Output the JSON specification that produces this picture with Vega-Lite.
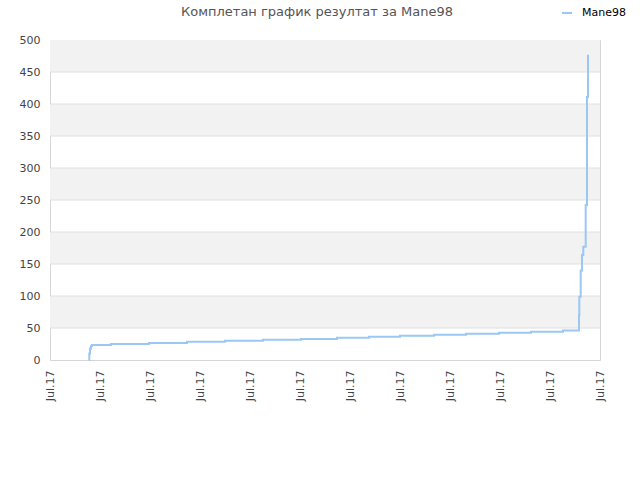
{
  "$schema": "https://vega.github.io/schema/vega-lite/v6.json",
  "width": 550,
  "height": 320,
  "autosize": "none",
  "padding": {"left": 50, "top": 40, "right": 40, "bottom": 120},
  "title": {
    "text": "Комплетан график резултат за Mane98",
    "font": "DejaVu Sans",
    "fontSize": 13,
    "fontWeight": "normal",
    "color": "#555555",
    "letterSpacing": 0.3,
    "anchor": "middle",
    "frame": "group",
    "dx": -8,
    "offset": -12
  },
  "layer": [
    {
      "data": {"values": [
        {"lo": 50, "hi": 100},
        {"lo": 150, "hi": 200},
        {"lo": 250, "hi": 300},
        {"lo": 350, "hi": 400},
        {"lo": 450, "hi": 500}
      ]},
      "mark": {"type": "rect", "color": "#f2f2f2"},
      "encoding": {
        "y": {
          "field": "lo",
          "type": "quantitative",
          "scale": {"domain": [0, 500], "nice": false},
          "axis": {
            "title": null,
            "values": [0, 50, 100, 150, 200, 250, 300, 350, 400, 450, 500],
            "labelOverlap": false,
            "grid": false,
            "ticks": false,
            "domain": false,
            "labelPadding": 10
          }
        },
        "y2": {"field": "hi"}
      }
    },
    {
      "data": {"values": [
        {"level": 50}, {"level": 100}, {"level": 150}, {"level": 200}, {"level": 250},
        {"level": 300}, {"level": 350}, {"level": 400}, {"level": 450}
      ]},
      "mark": {"type": "rule", "color": "#e0e0e0", "strokeWidth": 1},
      "encoding": {
        "y": {
          "field": "level",
          "type": "quantitative",
          "axis": {
            "title": null,
            "values": [0, 50, 100, 150, 200, 250, 300, 350, 400, 450, 500],
            "labelOverlap": false,
            "grid": false,
            "ticks": false,
            "domain": false,
            "labelPadding": 10
          }
        }
      }
    },
    {
      "data": {"values": [
        {"player": "Mane98", "time": "2017-07-01T18:43:00", "score": 0},
        {"player": "Mane98", "time": "2017-07-01T18:52:00", "score": 10},
        {"player": "Mane98", "time": "2017-07-01T19:12:00", "score": 18},
        {"player": "Mane98", "time": "2017-07-01T19:41:00", "score": 22},
        {"player": "Mane98", "time": "2017-07-01T20:10:00", "score": 23.5},
        {"player": "Mane98", "time": "2017-07-02T05:17:00", "score": 25},
        {"player": "Mane98", "time": "2017-07-02T23:31:00", "score": 26.5},
        {"player": "Mane98", "time": "2017-07-03T17:46:00", "score": 28.5},
        {"player": "Mane98", "time": "2017-07-04T12:00:00", "score": 30},
        {"player": "Mane98", "time": "2017-07-05T06:14:00", "score": 31.5},
        {"player": "Mane98", "time": "2017-07-06T00:29:00", "score": 33},
        {"player": "Mane98", "time": "2017-07-06T17:46:00", "score": 34.7},
        {"player": "Mane98", "time": "2017-07-07T09:07:00", "score": 36.3},
        {"player": "Mane98", "time": "2017-07-08T00:00:00", "score": 37.8},
        {"player": "Mane98", "time": "2017-07-08T16:19:00", "score": 39.5},
        {"player": "Mane98", "time": "2017-07-09T07:41:00", "score": 41},
        {"player": "Mane98", "time": "2017-07-09T23:31:00", "score": 42.6},
        {"player": "Mane98", "time": "2017-07-10T14:53:00", "score": 44.2},
        {"player": "Mane98", "time": "2017-07-11T06:14:00", "score": 46},
        {"player": "Mane98", "time": "2017-07-11T13:55:00", "score": 70},
        {"player": "Mane98", "time": "2017-07-11T14:04:00", "score": 99},
        {"player": "Mane98", "time": "2017-07-11T14:44:00", "score": 140},
        {"player": "Mane98", "time": "2017-07-11T15:22:00", "score": 164},
        {"player": "Mane98", "time": "2017-07-11T15:59:00", "score": 177},
        {"player": "Mane98", "time": "2017-07-11T17:08:00", "score": 242},
        {"player": "Mane98", "time": "2017-07-11T17:46:00", "score": 411},
        {"player": "Mane98", "time": "2017-07-11T18:14:00", "score": 477}
      ]},
      "mark": {"type": "line", "interpolate": "step-after", "strokeWidth": 2},
      "encoding": {
        "x": {
          "field": "time",
          "type": "temporal",
          "scale": {
            "domain": [
              {"year": 2017, "month": 7, "date": 1},
              {"year": 2017, "month": 7, "date": 12}
            ],
            "nice": false
          },
          "axis": {
            "title": null,
            "format": "%b.%y",
            "tickCount": {"interval": "day", "step": 1},
            "labelAngle": 270,
            "labelPadding": 10,
            "grid": false,
            "ticks": false,
            "domain": false
          }
        },
        "y": {
          "field": "score",
          "type": "quantitative",
          "axis": {
            "title": null,
            "values": [0, 50, 100, 150, 200, 250, 300, 350, 400, 450, 500],
            "labelOverlap": false,
            "grid": false,
            "ticks": false,
            "domain": false,
            "labelPadding": 10
          }
        },
        "color": {
          "field": "player",
          "type": "nominal",
          "scale": {"range": ["#9ac7f4"]},
          "legend": {
            "title": null,
            "orient": "none",
            "legendX": 511,
            "legendY": -33,
            "symbolType": "stroke",
            "symbolSize": 100,
            "symbolStrokeWidth": 2,
            "labelOffset": 9,
            "labelFontSize": 11,
            "labelColor": "#000000",
            "labelFont": "DejaVu Sans"
          }
        }
      }
    }
  ],
  "view": {"stroke": "#d6d6d6"},
  "config": {
    "axis": {
      "labelFont": "DejaVu Sans",
      "labelFontSize": 11,
      "labelColor": "#444444"
    },
    "axisY": {"labelOverlap": false}
  }
}
